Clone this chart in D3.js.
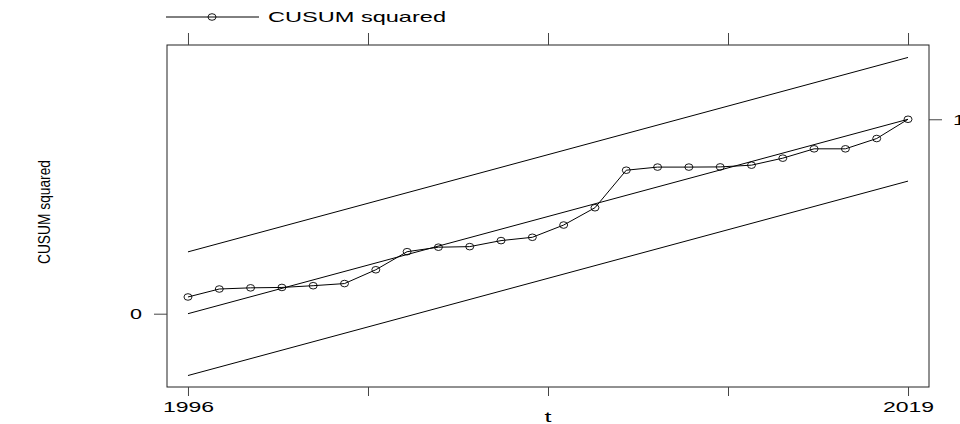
<!DOCTYPE html>
<html>
<head>
<meta charset="utf-8">
<script src="https://cdn.jsdelivr.net/npm/d3@7"></script>
<style>
  body { margin: 0; background: #fff; }
  text { font-family: "Liberation Sans", Arial, sans-serif; fill: #000; }
</style>
</head>
<body>
<div id="chart"></div>
<script>
// CUSUM squared test plot
var years = [1996, 1997, 1998, 1999, 2000, 2001, 2002, 2003, 2004, 2005, 2006, 2007,
             2008, 2009, 2010, 2011, 2012, 2013, 2014, 2015, 2016, 2017, 2018, 2019];
var cusumSq = [0.086, 0.127, 0.133, 0.135, 0.144, 0.155, 0.226, 0.319, 0.342, 0.345, 0.376, 0.393,
               0.456, 0.545, 0.738, 0.754, 0.754, 0.755, 0.764, 0.800, 0.848, 0.848, 0.901, 1.0];

// straight reference lines: start/end years and values
var lineYears = [1996, 2019];
var expected = [0, 1];
var upperBound = [0.318, 1.318];
var lowerBound = [-0.318, 0.682];

var xTicks = [1996, 2001.75, 2007.5, 2013.25, 2019];
var xLabels = {1996: "1996", 2019: "2019"};

var svgWidth = 960;
var svgHeight = 424;

var margin = {top: 45, right: 31, bottom: 37, left: 167};
var width = svgWidth - margin.left - margin.right;
var height = svgHeight - margin.top - margin.bottom;

var svg = d3.select("#chart")
    .append("svg")
    .attr("width", svgWidth)
    .attr("height", svgHeight);

var chartGroup = svg.append("g")
    .attr("transform", `translate(${margin.left}, ${margin.top})`);

var xScale = d3.scaleLinear()
    .domain([1995.33, 2019.67])
    .range([0, width]);

var yScale = d3.scaleLinear()
    .domain([-0.377, 1.382])
    .range([height, 0]);

// plot box
chartGroup.append("rect")
    .attr("width", width)
    .attr("height", height)
    .attr("fill", "none")
    .attr("stroke", "#222")
    .attr("stroke-width", 1);

// stata text is set wide, so stretch it a bit
function styleAxis(g, stretch) {
    g.select(".domain").remove();
    g.selectAll(".tick line").attr("stroke", "#444");
    g.selectAll(".tick text")
        .style("font-family", "Liberation Sans, Arial, sans-serif")
        .style("font-size", "15px")
        .attr("fill", "#000")
        .filter(function() { return this.textContent !== ""; })
        .attr("textLength", function() { return this.textContent.length * stretch; })
        .attr("lengthAdjust", "spacingAndGlyphs");
}

chartGroup.append("g")
    .attr("transform", `translate(0, ${height})`)
    .call(d3.axisBottom(xScale).tickValues(xTicks).tickSize(9).tickPadding(5)
        .tickFormat(d => xLabels[d] || ""))
    .call(styleAxis, 12.8);

chartGroup.append("g")
    .call(d3.axisTop(xScale).tickValues(xTicks).tickSize(12).tickFormat(""))
    .call(styleAxis, 12);

chartGroup.append("g")
    .call(d3.axisLeft(yScale).tickValues([0]).tickSize(13).tickPadding(12)
        .tickFormat(d3.format("d")))
    .call(styleAxis, 12);

chartGroup.append("g")
    .attr("transform", `translate(${width}, 0)`)
    .call(d3.axisRight(yScale).tickValues([1]).tickSize(13).tickPadding(11)
        .tickFormat(d3.format("d")))
    .call(styleAxis, 12);

// reference lines
var refLine = d3.line()
    .x((d, i) => xScale(lineYears[i]))
    .y(d => yScale(d));

[upperBound, expected, lowerBound].forEach(function(vals) {
    chartGroup.append("path")
        .datum(vals)
        .attr("d", refLine)
        .attr("fill", "none")
        .attr("stroke", "#000")
        .attr("stroke-width", 1);
});

// data series
var dataLine = d3.line()
    .x((d, i) => xScale(years[i]))
    .y(d => yScale(d));

chartGroup.append("path")
    .datum(cusumSq)
    .attr("d", dataLine)
    .attr("fill", "none")
    .attr("stroke", "#000")
    .attr("stroke-width", 1);

chartGroup.selectAll("ellipse.pt")
    .data(cusumSq)
    .enter()
    .append("ellipse")
    .attr("class", "pt")
    .attr("cx", (d, i) => xScale(years[i]))
    .attr("cy", d => yScale(d))
    .attr("rx", 4)
    .attr("ry", 3.3)
    .attr("fill", "none")
    .attr("stroke", "#000")
    .attr("stroke-width", 0.9);

// axis titles
svg.append("text")
    .attr("x", margin.left + xScale(2007.5))
    .attr("y", 422)
    .attr("text-anchor", "middle")
    .attr("textLength", 7)
    .attr("lengthAdjust", "spacingAndGlyphs")
    .style("font-size", "15px")
    .text("t");

svg.append("text")
    .attr("transform", `translate(50, ${margin.top + height / 2 - 4}) rotate(-90)`)
    .attr("text-anchor", "middle")
    .attr("textLength", 104)
    .attr("lengthAdjust", "spacingAndGlyphs")
    .style("font-size", "16px")
    .text("CUSUM squared");

// legend
var legend = svg.append("g");
legend.append("line")
    .attr("x1", 166).attr("x2", 259)
    .attr("y1", 17).attr("y2", 17)
    .attr("stroke", "#000");
legend.append("ellipse")
    .attr("cx", 212).attr("cy", 17)
    .attr("rx", 4).attr("ry", 3.3)
    .attr("fill", "none")
    .attr("stroke", "#000")
    .attr("stroke-width", 0.9);
legend.append("text")
    .attr("x", 268)
    .attr("y", 22)
    .attr("textLength", 178)
    .attr("lengthAdjust", "spacingAndGlyphs")
    .style("font-size", "15px")
    .text("CUSUM squared");
</script>
</body>
</html>
